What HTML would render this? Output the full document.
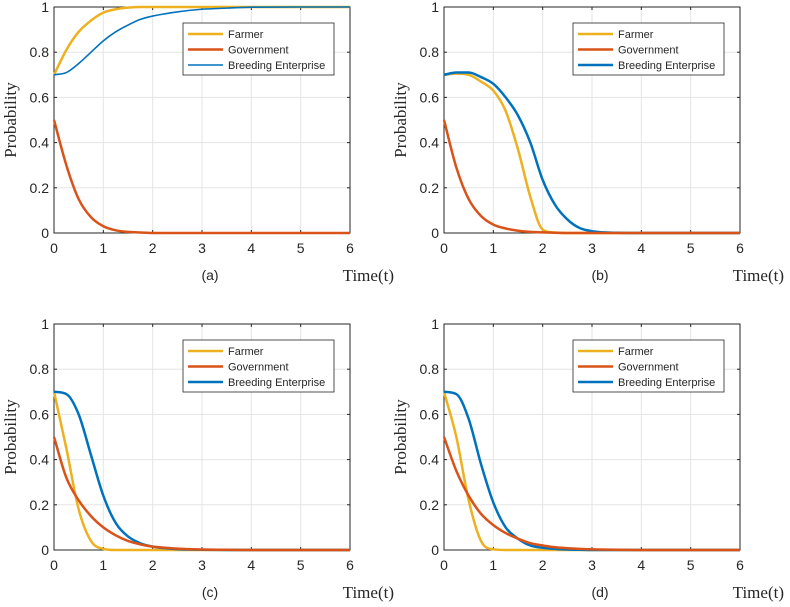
<!DOCTYPE html>
<html><head><meta charset="utf-8"><style>
html,body{margin:0;padding:0;background:#fff;}
svg{display:block;font-family:"Liberation Sans",sans-serif;}
</style></head><body>
<svg id="fig" width="790" height="607" viewBox="0 0 790 607"></svg>
<script>
const tVals = [0,0.25,0.5,0.75,1,1.25,1.5,1.75,2,2.25,2.5,2.75,3,3.5,4,5,6];
const xTicks = [0,1,2,3,4,5,6];
const yTicks = [0,0.2,0.4,0.6,0.8,1];
const yTickLabels = ["0","0.2","0.4","0.6","0.8","1"];
const seriesNames = ["Farmer","Government","Breeding Enterprise"];
const panelLabels = ["(a)","(b)","(c)","(d)"];
const farmerA = [0.7,0.81,0.89,0.94,0.975,0.99,0.997,1,1,1,1,1,1,1,1,1,1];
const govA    = [0.5,0.30,0.15,0.07,0.03,0.012,0.005,0.002,0,0,0,0,0,0,0,0,0];
const breedA  = [0.7,0.71,0.75,0.80,0.85,0.89,0.92,0.945,0.96,0.97,0.978,0.985,0.99,0.995,0.999,1,1];
const farmerB = [0.7,0.705,0.70,0.67,0.63,0.54,0.37,0.16,0.015,0.002,0,0,0,0,0,0,0];
const govB    = [0.5,0.29,0.15,0.075,0.037,0.02,0.01,0.005,0.003,0.001,0,0,0,0,0,0,0];
const breedB  = [0.7,0.71,0.71,0.69,0.66,0.60,0.52,0.40,0.235,0.125,0.06,0.022,0.008,0.001,0,0,0];
const farmerC = [0.7,0.45,0.18,0.04,0.005,0,0,0,0,0,0,0,0,0,0,0,0];
const govC    = [0.5,0.32,0.22,0.15,0.10,0.065,0.04,0.025,0.015,0.01,0.006,0.004,0.002,0.001,0,0,0];
const breedC  = [0.7,0.69,0.60,0.42,0.24,0.12,0.06,0.03,0.015,0.008,0.004,0.002,0.001,0,0,0,0];
const farmerD = [0.7,0.50,0.22,0.04,0.003,0,0,0,0,0,0,0,0,0,0,0,0];
const govD    = [0.5,0.35,0.24,0.16,0.11,0.075,0.05,0.03,0.02,0.012,0.008,0.005,0.003,0.001,0,0,0];
const breedD  = [0.7,0.69,0.58,0.38,0.21,0.10,0.05,0.02,0.01,0.005,0.002,0.001,0,0,0,0,0];

const colors = ["#EDB120","#D95319","#0072BD"];
const panels = [
  {x0:54,y0:7,data:[farmerA,govA,breedA],bw:1.6},
  {x0:444,y0:7,data:[farmerB,govB,breedB],bw:2.5},
  {x0:54,y0:324,data:[farmerC,govC,breedC],bw:2.5},
  {x0:444,y0:324,data:[farmerD,govD,breedD],bw:2.5}
];
const W=296,H=226;
const NS="http://www.w3.org/2000/svg";
const svg=document.getElementById('fig');
function mk(tag,attrs,parent){const e=document.createElementNS(NS,tag);for(const k in attrs)e.setAttribute(k,attrs[k]);(parent||svg).appendChild(e);return e;}
function monoPath(xs,ys){
  const n=xs.length,d=[],m=[];
  for(let i=0;i<n-1;i++)d.push((ys[i+1]-ys[i])/(xs[i+1]-xs[i]));
  m[0]=d[0];m[n-1]=d[n-2];
  for(let i=1;i<n-1;i++){m[i]=(d[i-1]*d[i]<=0)?0:(d[i-1]+d[i])/2;}
  for(let i=0;i<n-1;i++){if(d[i]===0){m[i]=0;m[i+1]=0;}else{const a=m[i]/d[i],b=m[i+1]/d[i],s=a*a+b*b;if(s>9){const t=3/Math.sqrt(s);m[i]=t*a*d[i];m[i+1]=t*b*d[i];}}}
  let p="M"+xs[0]+","+ys[0];
  for(let i=0;i<n-1;i++){const h=(xs[i+1]-xs[i])/3;p+=" C"+(xs[i]+h)+","+(ys[i]+m[i]*h)+" "+(xs[i+1]-h)+","+(ys[i+1]-m[i+1]*h)+" "+xs[i+1]+","+ys[i+1];}
  return p;
}
panels.forEach((P,pi)=>{
  const g=mk('g',{});
  
  
  const sx=t=>P.x0+t/6*W, sy=v=>P.y0+H-v*H;
  xTicks.forEach(t=>{
    const l=mk('line',{x1:sx(t),x2:sx(t),y1:P.y0,y2:P.y0+H,stroke:"#e5e5e5","stroke-width":1},g);
    
    mk('line',{x1:sx(t),x2:sx(t),y1:P.y0+H,y2:P.y0+H-3,stroke:"#262626"},g);
    mk('line',{x1:sx(t),x2:sx(t),y1:P.y0,y2:P.y0+3,stroke:"#262626"},g);
    const tx=mk('text',{x:sx(t),y:P.y0+H+20,"text-anchor":"middle","font-size":14,fill:"#262626"},g);
    tx.textContent=t;
    
  });
  yTicks.forEach((v,i)=>{
    const l=mk('line',{x1:P.x0,x2:P.x0+W,y1:sy(v),y2:sy(v),stroke:"#e5e5e5","stroke-width":1},g);
    
    mk('line',{x1:P.x0,x2:P.x0+3,y1:sy(v),y2:sy(v),stroke:"#262626"},g);
    mk('line',{x1:P.x0+W-3,x2:P.x0+W,y1:sy(v),y2:sy(v),stroke:"#262626"},g);
    const tx=mk('text',{x:P.x0-5,y:sy(v)+5,"text-anchor":"end","font-size":14,fill:"#262626"},g);
    tx.textContent=yTickLabels[i];
    
  });
  const box=mk('rect',{x:P.x0,y:P.y0,width:W,height:H,fill:"none",stroke:"#262626","stroke-width":1},g);
  
  const xs=tVals.map(sx);
  [0,2,1].forEach(si=>{
    const path=mk('path',{d:monoPath(xs,P.data[si].map(sy)),fill:"none",stroke:colors[si],"stroke-width":(si===2?P.bw:2.5)},g);
    
    
  });
  const yl=mk('text',{x:0,y:0,transform:"translate("+(P.x0-38)+","+(P.y0+H/2)+") rotate(-90)","text-anchor":"middle","font-size":17,fill:"#262626","font-family":"Liberation Serif, serif"},g);
  yl.textContent="Probability";
  
  const xl=mk('text',{x:P.x0+W+44,y:P.y0+H+48,"text-anchor":"end","font-size":17,fill:"#262626","font-family":"Liberation Serif, serif"},g);
  xl.textContent="Time(t)";
  
  const cap=mk('text',{x:P.x0+156,y:P.y0+H+47,"text-anchor":"middle","font-size":14,fill:"#262626"},g);
  cap.textContent=panelLabels[pi];
  
  const lg=mk('g',{},g);
  
  const lx=P.x0+129, ly=P.y0+16;
  mk('rect',{x:lx,y:ly,width:151,height:52,fill:"#fff",stroke:"#262626","stroke-width":0.8},lg);
  seriesNames.forEach((nm,si)=>{
    const yy=ly+11+si*15.5;
    mk('line',{x1:lx+5,x2:lx+40,y1:yy,y2:yy,stroke:colors[si],"stroke-width":(si===2?P.bw:2.5)},lg);
    const t=mk('text',{x:lx+45,y:yy+4,"font-size":11,fill:"#262626"},lg);
    t.textContent=nm;
    
  });
});
</script>
</body></html>
